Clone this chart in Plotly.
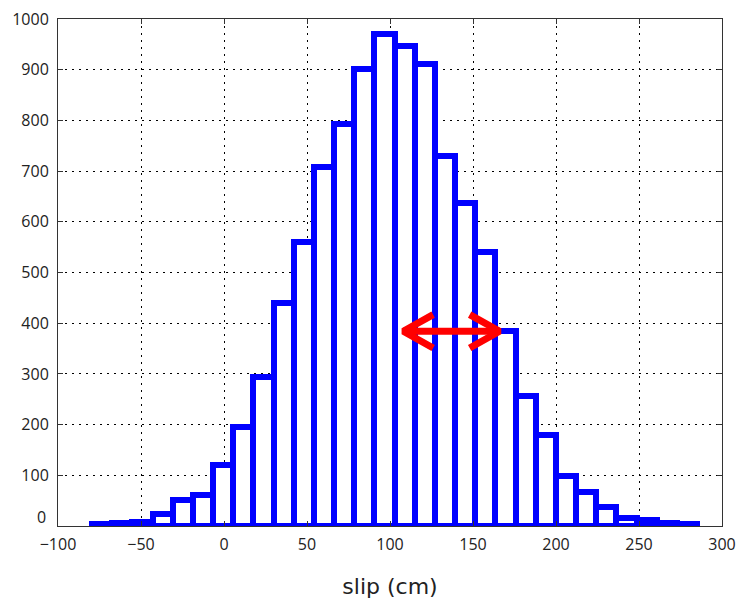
import plotly.graph_objects as go

# ---- data ----
bin_start = -79.5
bin_width = 12.15
counts = [3, 6, 8, 24, 51, 62, 120, 196, 293, 440,
          561, 708, 793, 902, 971, 947, 911, 730, 637, 541,
          384, 257, 180, 98, 68, 37, 15, 11, 6, 3]
x_ticks = [-100, -50, 0, 50, 100, 150, 200, 250, 300]
y_ticks = [0, 100, 200, 300, 400, 500, 600, 700, 800, 900, 1000]

# red double arrow (data units)
arrow_x0 = 108
arrow_x1 = 166
arrow_y = 384
head_dx = 18
head_dy = 33

centers = [bin_start + bin_width * (i + 0.5) for i in range(len(counts))]

fig = go.Figure()
fig.add_trace(go.Bar(
    x=centers, y=counts, width=[bin_width] * len(counts),
    marker=dict(color="white", line=dict(color="#0000FF", width=6)),
    showlegend=False, hoverinfo="skip",
))

ax = [arrow_x0 + head_dx, arrow_x0, arrow_x0 + head_dx, None,
      arrow_x0, arrow_x1, None,
      arrow_x1 - head_dx, arrow_x1, arrow_x1 - head_dx]
ay = [arrow_y + head_dy, arrow_y, arrow_y - head_dy, None,
      arrow_y, arrow_y, None,
      arrow_y + head_dy, arrow_y, arrow_y - head_dy]
fig.add_trace(go.Scatter(
    x=ax, y=ay, mode="lines",
    line=dict(color="#FF0000", width=7),
    showlegend=False, hoverinfo="skip",
))

tick_font = dict(family="Open Sans, sans-serif", size=16, color="#222222")
axis_common = dict(
    showline=True, linecolor="#333333", linewidth=1, mirror="ticks",
    ticks="inside", ticklen=5, tickcolor="#333333",
    showgrid=True, gridcolor="#000000", gridwidth=1, griddash="2px,5px",
    zeroline=False, automargin=False, ticklabeloverflow="allow",
    tickfont=tick_font,
)

fig.update_xaxes(
    range=[-100, 300], tickmode="array", tickvals=x_ticks,
    ticktext=[str(v).replace("-", "\u2212") for v in x_ticks],
    ticklabelstandoff=4,
    title=dict(text="slip (cm)", standoff=24,
               font=dict(family="DejaVu Sans, sans-serif", size=22, color="#222222")),
    **axis_common,
)
# the "0" label sits a little above its tick in the reference; draw it separately
fig.update_yaxes(
    range=[0, 1000], tickmode="array", tickvals=y_ticks,
    ticktext=["" if v == 0 else str(v) for v in y_ticks],
    ticklabelstandoff=5,
    **axis_common,
)
fig.add_annotation(
    text=str(y_ticks[0]), xref="paper", x=0, yref="y", y=y_ticks[0],
    xanchor="right", yanchor="middle", xshift=-10, yshift=9,
    showarrow=False, font=tick_font,
)

fig.update_layout(
    width=737, height=595,
    margin=dict(l=50, r=23, t=11, b=77),
    paper_bgcolor="white", plot_bgcolor="white",
    bargap=0, barmode="overlay",
)

fig.write_html("out.html")
